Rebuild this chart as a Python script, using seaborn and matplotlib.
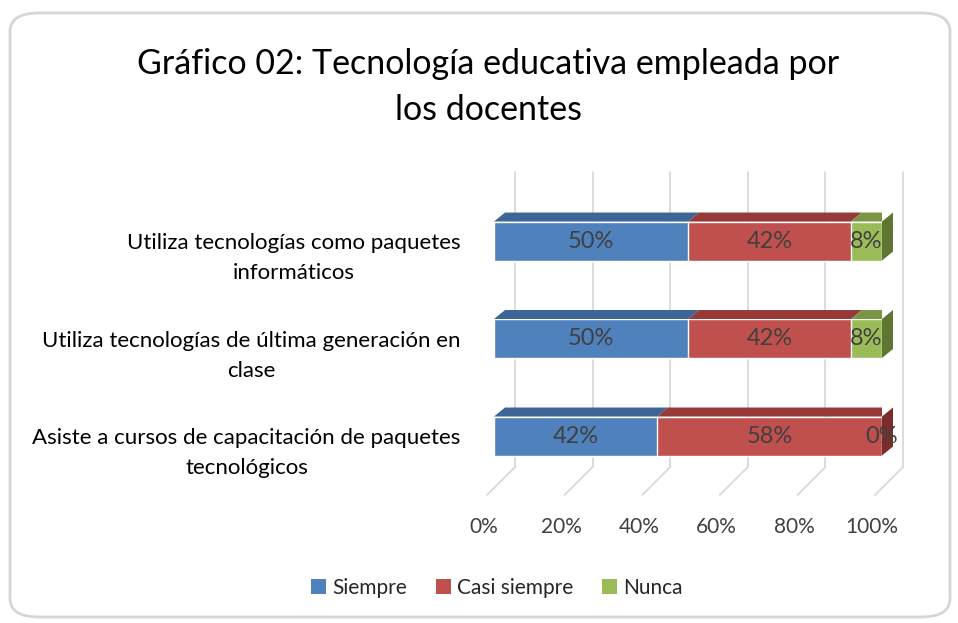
import numpy as np
import pandas as pd
import matplotlib
matplotlib.use("Agg")
import matplotlib.pyplot as plt
import matplotlib.transforms as mtransforms
from matplotlib.patches import Polygon, Patch, FancyBboxPatch
import seaborn as sns

# data
categories = [
    "Utiliza tecnologías como paquetes\ninformáticos",
    "Utiliza tecnologías de última generación en\nclase",
    "Asiste a cursos de capacitación de paquetes\ntecnológicos",
]
series_names = ["Siempre", "Casi siempre", "Nunca"]
siempre = [50, 50, 42]
casi_siempre = [42, 42, 58]
nunca = [8, 8, 0]
x_ticks = [0, 20, 40, 60, 80, 100]
x_tick_labels = ["0%", "20%", "40%", "60%", "80%", "100%"]
title = "Gráfico 02: Tecnología educativa empleada por\nlos docentes"

front_colors = ["#4F81BD", "#C0504D", "#9BBB59"]
top_colors = ["#3D6596", "#953A38", "#7A9645"]
side_colors = ["#2F4F75", "#7A2E2C", "#5F7633"]
text_color = "#404040"
grid_color = "#D9D9D9"

sns.set_style("white")
plt.rcParams["font.family"] = ["Lato", "DejaVu Sans"]

W, H = 958, 623
fig = plt.figure(figsize=(W / 100, H / 100), dpi=100)
fig.patch.set_facecolor("white")

# rounded frame around the chart
frame = FancyBboxPatch((10 / W, 6 / H), 940 / W, 604 / H,
                       boxstyle="round,pad=0,rounding_size=0.03",
                       transform=fig.transFigure, facecolor="none",
                       edgecolor="#D6D6D6", linewidth=2, zorder=-1)
fig.patches.append(frame)

ax = fig.add_axes([494 / W, 1 - 495 / H, 388 / W, 323 / H])
ax.set_facecolor("none")
ax.set_zorder(2)

df = pd.DataFrame({"categoria": categories, "Siempre": siempre,
                   "Casi siempre": casi_siempre, "Nunca": nunca})
vals = df[series_names].to_numpy(dtype=float)
cum = np.cumsum(vals, axis=1)
lefts = cum - vals

# stacked bars: draw cumulative totals back to front
bar_h = 0.40
for i in range(len(series_names) - 1, -1, -1):
    sns.barplot(x=cum[:, i], y=df["categoria"], orient="h", color=front_colors[i],
                width=bar_h, saturation=1, ax=ax, zorder=3)

ax.set_xlim(0, 100)
ax.set_ylim(2.605, -0.708)

# pseudo 3D depth
px_x = ax.bbox.width / 100.0
px_y = ax.bbox.height / (2.605 + 0.708)
ddx = 11 / px_x
ddy = 9 / px_y

for r in range(len(categories)):
    top = r - bar_h / 2
    bot = r + bar_h / 2
    for i in range(len(series_names)):
        l, rr = lefts[r, i], cum[r, i]
        if rr - l <= 0:
            continue
        ax.add_patch(Polygon([(l, top), (rr, top), (rr + ddx, top - ddy), (l + ddx, top - ddy)],
                             closed=True, facecolor=top_colors[i], edgecolor="none", zorder=3))
    last = max(i for i in range(len(series_names)) if vals[r, i] > 0)
    end = cum[r, -1]
    ax.add_patch(Polygon([(end, top), (end, bot), (end + ddx, bot - ddy), (end + ddx, top - ddy)],
                         closed=True, facecolor=side_colors[last], edgecolor="none",
                         zorder=3, clip_on=False))
    for i in range(len(series_names)):
        ax.text(lefts[r, i] + vals[r, i] / 2, r, f"{int(vals[r, i])}%",
                ha="center", va="center", fontsize=17, color=text_color, zorder=5)

# back wall gridlines and floor lines
blend = mtransforms.blended_transform_factory(ax.transData, ax.transAxes)


def shifted(dx, dy):
    return blend + mtransforms.ScaledTranslation(dx / 100, dy / 100, fig.dpi_scale_trans)


floor_y = 28 / 323
for t in x_ticks:
    ax.plot([t, t], [1, floor_y], transform=shifted(21, 0), color=grid_color,
            lw=1.3, clip_on=False, zorder=1)
    ax.annotate("", xy=(t, 0), xycoords=shifted(-7, 0), xytext=(t, floor_y),
                textcoords=shifted(21, 0),
                arrowprops=dict(arrowstyle="-", color=grid_color, lw=1.3,
                                shrinkA=0, shrinkB=0), zorder=1)

for s in ax.spines.values():
    s.set_visible(False)

ax.set_xticks(x_ticks)
ax.set_xticklabels(x_tick_labels, fontsize=15, color=text_color)
ax.tick_params(axis="x", length=0, pad=16)
for lab in ax.get_xticklabels():
    lab.set_transform(lab.get_transform() + mtransforms.ScaledTranslation(-10 / 100, 0, fig.dpi_scale_trans))

ax.set_yticks(range(len(categories)))
ax.set_yticklabels(categories, fontsize=16, color="black")
ax.tick_params(axis="y", length=0, pad=24)
for lab in ax.get_yticklabels():
    lab.set_multialignment("center")
    lab.set_linespacing(1.65)
    lab.set_transform(lab.get_transform() + mtransforms.ScaledTranslation(0, -10 / 100, fig.dpi_scale_trans))
ax.set_xlabel("")
ax.set_ylabel("")
ax.grid(False)

fig.text(488 / W, 1 - 87 / H, title, ha="center", va="center", fontsize=24.5,
         color="black", linespacing=1.55)

handles = [Patch(facecolor=c, edgecolor="none", label=n) for c, n in zip(front_colors, series_names)]
fig.legend(handles=handles, loc="center", bbox_to_anchor=(497 / W, 1 - 588 / H), ncol=3,
           frameon=False, fontsize=15, handlelength=0.7, handleheight=0.7,
           handletextpad=0.3, columnspacing=1.4)

fig.savefig("out.png", dpi=100)
